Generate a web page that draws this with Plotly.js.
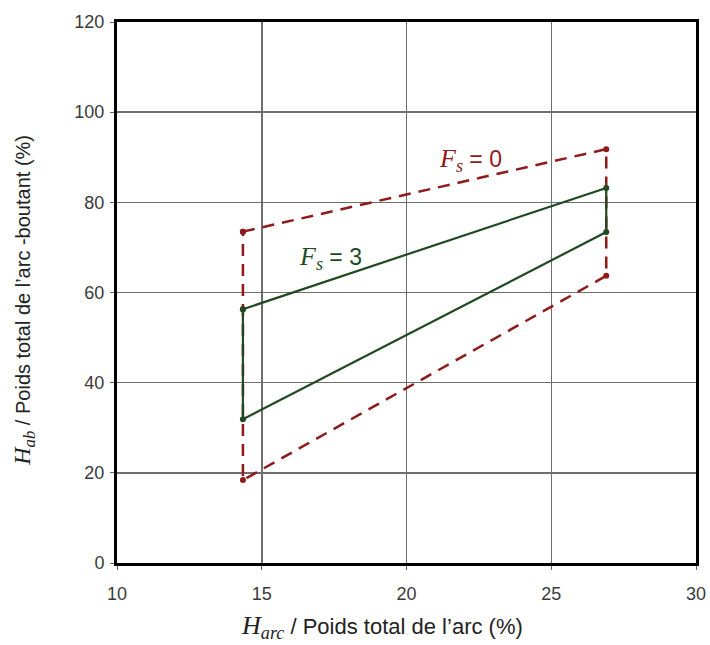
<!DOCTYPE html>
<html>
<head>
<meta charset="utf-8">
<script src="https://cdn.plot.ly/plotly-3.0.1.min.js"></script>
<style>html,body{margin:0;padding:0;background:#fff;}#chart{width:710px;height:645px;}</style>
</head>
<body>
<div id="chart"></div>
<script>
// Data
const fs0_x = [14.35, 26.9, 26.9, 14.35, 14.35];
const fs0_y = [73.5, 91.8, 63.7, 18.4, 73.5];
const fs3_x = [14.35, 26.9, 26.9, 14.35, 14.35];
const fs3_y = [56.3, 83.2, 73.4, 31.9, 56.3];
const xTicks = [10, 15, 20, 25, 30];
const yTicks = [0, 20, 40, 60, 80, 100, 120];

const red = '#8e1a1a';
const green = '#1f4a1f';
const serif = "'Liberation Serif', 'DejaVu Serif', serif";

const traces = [
  {x: fs0_x, y: fs0_y, mode: 'lines+markers', name: 'Fs = 0',
   line: {color: red, width: 2.5, dash: '12px,8px'}, marker: {color: red, size: 6}},
  {x: fs3_x, y: fs3_y, mode: 'lines+markers', name: 'Fs = 3',
   line: {color: green, width: 2.2}, marker: {color: green, size: 6}}
];

const axisCommon = {
  showgrid: true, gridcolor: '#6e6e6e', gridwidth: 1.5,
  showline: true, linecolor: '#000', linewidth: 3, mirror: true,
  ticks: 'outside', ticklen: 4, tickcolor: '#666', zeroline: false,
  tickfont: {size: 18, color: '#3a3a3a'}
};

const layout = {
  width: 710, height: 645,
  margin: {l: 117, r: 14, t: 22, b: 82},
  paper_bgcolor: '#fff', plot_bgcolor: '#fff',
  showlegend: false,
  font: {family: '"Liberation Sans", Arial, sans-serif', color: '#3a3a3a', size: 18},
  xaxis: Object.assign({range: [10, 30], tickvals: xTicks, ticktext: xTicks.map(String), ticklabelstandoff: 8}, axisCommon),
  yaxis: Object.assign({range: [0, 120], tickvals: yTicks, ticktext: yTicks.map(String), ticklabelstandoff: 2}, axisCommon),
  annotations: [
    {xref: 'paper', yref: 'paper', x: 0.458, y: -0.118, xanchor: 'center', yanchor: 'middle', showarrow: false,
     text: '<span style="font-family:' + serif + ';font-size:26px"><i>H</i><sub><i>arc</i></sub></span> / Poids total de l\u2019arc (%)',
     font: {size: 22, color: '#222'}},
    {xref: 'paper', yref: 'paper', x: -0.162, y: 0.485, xanchor: 'center', yanchor: 'middle', showarrow: false, textangle: -90,
     text: '<span style="font-family:' + serif + ';font-size:24px"><i>H</i><sub><i>ab</i></sub></span> / Poids total de l\u2019arc -boutant (%)',
     font: {size: 20, color: '#222'}},
    {x: 22.2, y: 89.4, xanchor: 'center', yanchor: 'middle', showarrow: false,
     text: '<span style="font-family:' + serif + ';font-size:26px"><i>F</i><sub><i>s</i></sub></span> = 0',
     font: {size: 23, color: red}},
    {x: 17.36, y: 67.7, xanchor: 'center', yanchor: 'middle', showarrow: false,
     text: '<span style="font-family:' + serif + ';font-size:26px"><i>F</i><sub><i>s</i></sub></span> = 3',
     font: {size: 23, color: green}}
  ]
};

Plotly.newPlot('chart', traces, layout, {displayModeBar: false, staticPlot: true});
</script>
</body>
</html>
